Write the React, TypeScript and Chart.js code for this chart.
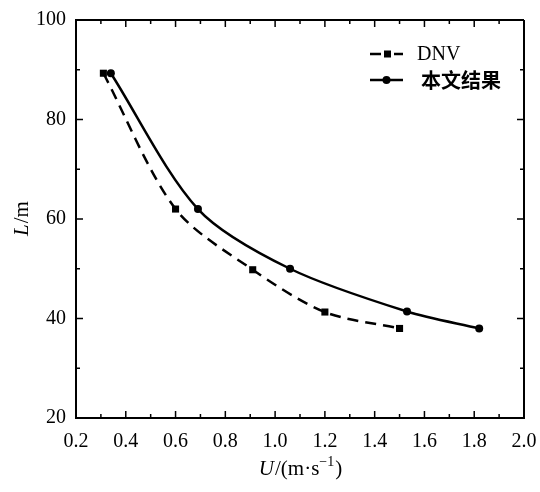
import React, { useEffect, useRef } from "react";
import { Chart, registerables } from "chart.js";

Chart.register(...registerables);

const dnvU = [0.31, 0.6, 0.91, 1.2, 1.5];
const dnvL = [89.3, 62, 49.8, 41.3, 38];
const resU = [0.34, 0.69, 1.06, 1.53, 1.82];
const resL = [89.3, 62, 50, 41.4, 38];
const seriesNames = ["DNV", "本文结果"];
const xMin = 0.2;
const xMax = 2.0;
const yMin = 20;
const yMax = 100;

const SERIF = "'Liberation Serif', 'DejaVu Serif', serif";
const CJK = "'Noto Sans CJK SC', sans-serif";

const decorPlugin = {
  id: "decor",
  afterDraw(chart: any) {
    const ctx = chart.ctx as CanvasRenderingContext2D;
    const { left, right, top, bottom } = chart.chartArea;
    const xs = chart.scales.x;
    const ys = chart.scales.y;
    ctx.save();
    ctx.strokeStyle = "#000";
    ctx.lineWidth = 2;
    ctx.beginPath();
    ctx.moveTo(left, top);
    ctx.lineTo(right, top);
    ctx.moveTo(right, top);
    ctx.lineTo(right, bottom);
    ctx.stroke();
    ctx.lineWidth = 1.5;
    ctx.beginPath();
    for (let i = 0; i <= 18; i++) {
      const v = xMin + i * 0.1;
      const px = xs.getPixelForValue(v);
      const len = i % 2 === 0 ? 7 : 4;
      ctx.moveTo(px, bottom);
      ctx.lineTo(px, bottom - len);
      ctx.moveTo(px, top);
      ctx.lineTo(px, top + len);
    }
    for (let i = 0; i <= 8; i++) {
      const v = yMin + i * 10;
      const py = ys.getPixelForValue(v);
      const len = i % 2 === 0 ? 7 : 4;
      ctx.moveTo(left, py);
      ctx.lineTo(left + len, py);
      ctx.moveTo(right, py);
      ctx.lineTo(right - len, py);
    }
    ctx.stroke();

    // legend
    const ly1 = 54;
    const ly2 = 80;
    ctx.lineWidth = 2.5;
    ctx.beginPath();
    ctx.moveTo(370, ly1);
    ctx.lineTo(381, ly1);
    ctx.moveTo(394, ly1);
    ctx.lineTo(403, ly1);
    ctx.stroke();
    ctx.fillStyle = "#000";
    ctx.fillRect(384, ly1 - 3.5, 7, 7);
    ctx.beginPath();
    ctx.moveTo(370, ly2);
    ctx.lineTo(403, ly2);
    ctx.stroke();
    ctx.beginPath();
    ctx.arc(386.5, ly2, 4, 0, Math.PI * 2);
    ctx.fill();
    ctx.textBaseline = "middle";
    ctx.textAlign = "left";
    ctx.font = `20px ${SERIF}`;
    ctx.fillText(seriesNames[0], 417, ly1 + 1);
    ctx.font = `bold 20px ${CJK}`;
    ctx.fillText(seriesNames[1], 421, ly2);

    // x title
    const cx = (left + right) / 2;
    const ty = 475;
    const partA = "U";
    const partB = "/(m·s";
    const partC = "−1";
    const partD = ")";
    const fs = 21;
    ctx.font = `italic ${fs}px ${SERIF}`;
    const wA = ctx.measureText(partA).width;
    ctx.font = `${fs}px ${SERIF}`;
    const wB = ctx.measureText(partB).width;
    const wD = ctx.measureText(partD).width;
    ctx.font = `14px ${SERIF}`;
    const wC = ctx.measureText(partC).width;
    let x = cx - (wA + wB + wC + wD + 1) / 2;
    ctx.textBaseline = "alphabetic";
    ctx.font = `italic ${fs}px ${SERIF}`;
    ctx.fillText(partA, x, ty);
    x += wA + 1;
    ctx.font = `${fs}px ${SERIF}`;
    ctx.fillText(partB, x, ty);
    x += wB;
    ctx.font = `14px ${SERIF}`;
    ctx.fillText(partC, x, ty - 9);
    x += wC + 1;
    ctx.font = `${fs}px ${SERIF}`;
    ctx.fillText(partD, x, ty);

    // y title
    ctx.save();
    const cy = (top + bottom) / 2;
    ctx.translate(28, cy);
    ctx.rotate(-Math.PI / 2);
    ctx.font = `italic ${fs}px ${SERIF}`;
    const wL = ctx.measureText("L").width;
    ctx.font = `${fs}px ${SERIF}`;
    const wM = ctx.measureText("/m").width;
    let yx = -(wL + wM) / 2;
    ctx.font = `italic ${fs}px ${SERIF}`;
    ctx.fillText("L", yx, 0);
    yx += wL + 1;
    ctx.font = `${fs}px ${SERIF}`;
    ctx.fillText("/m", yx, 0);
    ctx.restore();

    ctx.restore();
  },
};

export default function App() {
  const ref = useRef<HTMLCanvasElement | null>(null);
  useEffect(() => {
    if (!ref.current) return;
    const chart = new Chart(ref.current, {
      type: "line",
      data: {
        datasets: [
          {
            label: seriesNames[0],
            data: dnvU.map((u, i) => ({ x: u, y: dnvL[i] })),
            borderColor: "#000",
            backgroundColor: "#000",
            borderWidth: 2.5,
            borderDash: [11, 7],
            pointStyle: "rect",
            pointRadius: 5,
            pointBorderWidth: 0,
            tension: 0.3,
          },
          {
            label: seriesNames[1],
            data: resU.map((u, i) => ({ x: u, y: resL[i] })),
            borderColor: "#000",
            backgroundColor: "#000",
            borderWidth: 2.5,
            pointStyle: "circle",
            pointRadius: 4,
            pointBorderWidth: 0,
            tension: 0.3,
          },
        ],
      },
      options: {
        animation: false,
        responsive: false,
        maintainAspectRatio: false,
        layout: { padding: { left: 0, top: 20, right: 16, bottom: 0 } },
        plugins: {
          legend: { display: false },
          tooltip: { enabled: false },
        },
        scales: {
          x: {
            type: "linear",
            min: xMin,
            max: xMax,
            afterFit: (s: any) => {
              s.height = 74;
              s.paddingLeft = 0;
              s.paddingRight = 0;
            },
            ticks: {
              stepSize: 0.2,
              color: "#000",
              padding: 12,
              maxRotation: 0,
              font: { family: SERIF, size: 20 },
              callback: (v: any) => Number(v).toFixed(1),
            },
            grid: { display: false, drawTicks: false },
            border: { display: true, color: "#000", width: 2 },
          },
          y: {
            type: "linear",
            min: yMin,
            max: yMax,
            afterFit: (s: any) => {
              s.width = 76;
              s.paddingTop = 0;
              s.paddingBottom = 0;
            },
            ticks: {
              stepSize: 20,
              color: "#000",
              padding: 10,
              font: { family: SERIF, size: 20 },
            },
            grid: { display: false, drawTicks: false },
            border: { display: true, color: "#000", width: 2 },
          },
        },
      },
      plugins: [decorPlugin],
    } as any);
    return () => chart.destroy();
  }, []);
  return (
    <div style={{ position: "fixed", left: 0, top: 0, width: 540, height: 492, background: "#fff" }}>
      <canvas ref={ref} width={540} height={492} style={{ width: 540, height: 492, display: "block" }} />
    </div>
  );
}
